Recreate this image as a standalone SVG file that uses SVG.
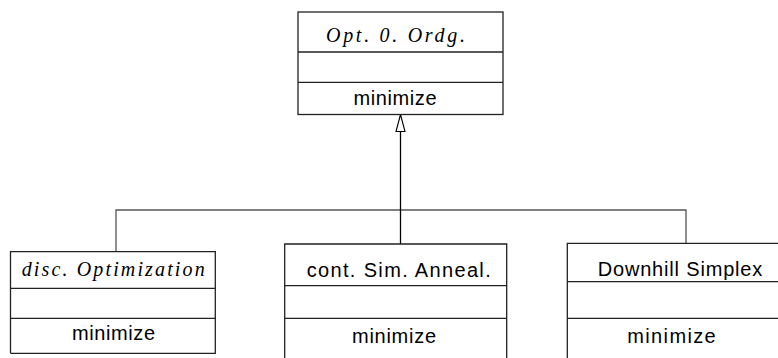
<svg xmlns="http://www.w3.org/2000/svg" width="778" height="358" viewBox="0 0 778 358">
<style>
.box{fill:#fff;stroke:#222;stroke-width:1.3}
.div{stroke:#222;stroke-width:1.3;fill:none}
.conn{stroke:#555;stroke-width:1.3;fill:none}
.main{stroke:#000;stroke-width:1.3;fill:none}
.ital{font-family:"Liberation Serif",serif;font-style:italic;font-size:20px;fill:#000}
.sans{font-family:"Liberation Sans",Arial,sans-serif;font-size:20px;fill:#000}
</style>
<rect width="778" height="358" fill="#fff"/>
<g id="connectors">
<polyline class="conn" points="116,251.7 116,210 686,210 686,243.3"/>
<line class="main" x1="400.5" y1="131.5" x2="400.5" y2="244"/>
<polygon points="400.5,114.5 396,131.5 405,131.5" fill="#fff" stroke="#000" stroke-width="1.1"/>
</g>
<g id="opt0ordg">
<rect class="box" x="298" y="12" width="205" height="102.5"/>
<line class="div" x1="298" y1="52" x2="503" y2="52"/>
<line class="div" x1="298" y1="82.3" x2="503" y2="82.3"/>
<text class="ital" x="326" y="42" textLength="139" lengthAdjust="spacing">Opt. 0. Ordg.</text>
<text class="sans" x="353.5" y="105" textLength="83" lengthAdjust="spacing">minimize</text>
</g>
<g id="discopt">
<polyline class="div" points="10.5,353.3 10.5,251.7 215.3,251.7 215.3,353.3 10.5,353.3"/>
<line class="div" x1="10.5" y1="288.3" x2="215.3" y2="288.3"/>
<line class="div" x1="10.5" y1="318.3" x2="215.3" y2="318.3"/>
<text class="ital" x="21.7" y="276" textLength="183" lengthAdjust="spacing">disc. Optimization</text>
<text class="sans" x="72" y="340" textLength="83" lengthAdjust="spacing">minimize</text>
</g>
<g id="contsim">
<polyline class="div" points="284.7,360 284.7,244 506.7,244 506.7,360"/>
<line class="div" x1="284.7" y1="285.7" x2="506.7" y2="285.7"/>
<line class="div" x1="284.7" y1="318.3" x2="506.7" y2="318.3"/>
<text class="sans" x="306.7" y="277.3" textLength="184" lengthAdjust="spacing">cont. Sim. Anneal.</text>
<text class="sans" x="352" y="342.7" textLength="84" lengthAdjust="spacing">minimize</text>
</g>
<g id="downhill">
<polyline class="div" points="567.3,360 567.3,243.3 780,243.3"/>
<line class="div" x1="567.3" y1="281.7" x2="780" y2="281.7"/>
<line class="div" x1="567.3" y1="318.3" x2="780" y2="318.3"/>
<text class="sans" x="597.7" y="276" textLength="164.6" lengthAdjust="spacing">Downhill Simplex</text>
<text class="sans" x="627.3" y="342.7" textLength="88.4" lengthAdjust="spacing">minimize</text>
</g>
</svg>
